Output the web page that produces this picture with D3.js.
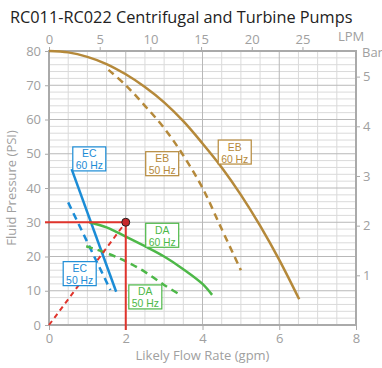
<!DOCTYPE html>
<html>
<head>
<meta charset="utf-8">
<script src="https://cdn.jsdelivr.net/npm/d3@7"></script>
<style>
body { margin: 0; background: #fff; }
svg { font-family: "Open Sans", sans-serif; }
</style>
</head>
<body>
<svg width="382" height="368"></svg>
<script>
// pump curves: [gpm, psi]
const eb60 = [[0, 80], [0.5, 79.6], [1, 78.3], [1.5, 76.2], [2, 73.2], [2.5, 69.5], [3, 65], [3.5, 59.5], [4, 53], [4.5, 46], [5, 38], [5.5, 29], [6, 19], [6.52, 7.5]];
const eb50 = [[1.55, 74.5], [2, 70], [2.5, 64], [3, 57.5], [3.5, 49.5], [4, 40], [4.5, 28], [5, 16]];
const ec60 = [[0.59, 45.5], [1.75, 9.7]];
const ec50 = [[0.5, 35.8], [1.6, 10.2]];
const da60 = [[1.05, 30], [1.5, 28.5], [2, 25.8], [2.5, 23], [3, 20], [3.5, 16.3], [4, 12], [4.25, 8.8]];
const da50 = [[0.97, 23], [1.5, 21], [2, 18.6], [2.5, 15.5], [3, 11.7], [3.42, 8.8]];
const opPoint = [2, 30];

const gpmTicks = [0, 2, 4, 6, 8];
const psiTicks = [0, 10, 20, 30, 40, 50, 60, 70, 80];
const lpmTicks = [0, 5, 10, 15, 20, 25];
const barTicks = [1, 2, 3, 4, 5];

// box labels, anchored at the box top-left corner (gpm, psi)
const labels = [
    {t1: "EC", t2: "60 Hz", x: 0.62, y: 52, c: "#1b8cd6"},
    {t1: "EC", t2: "50 Hz", x: 0.37, y: 18.5, c: "#1b8cd6"},
    {t1: "EB", t2: "50 Hz", x: 2.52, y: 50.6, c: "#b5893a"},
    {t1: "EB", t2: "60 Hz", x: 4.41, y: 54, c: "#b5893a"},
    {t1: "DA", t2: "60 Hz", x: 2.52, y: 29.7, c: "#4db848"},
    {t1: "DA", t2: "50 Hz", x: 2.08, y: 11.7, c: "#4db848"}
];

let svg = d3.select("svg");
let gold = "#b5893a", blue = "#1b8cd6", green = "#4db848", red = "#e0342c";
let axisCol = "#aaa", textCol = "#a0a0a0";

let xScale = d3.scaleLinear().domain([0, 8]).range([49, 356]);
let yScale = d3.scaleLinear().domain([0, 80]).range([325, 51]);
let lpmScale = d3.scaleLinear().domain([0, 8 * 3.785]).range([49, 356]);
let barScale = d3.scaleLinear().domain([0, 80 / 14.5038]).range([325, 51]);

// title
svg.append("text")
    .attr("x", 10).attr("y", 23)
    .attr("font-size", 16.3)
    .attr("fill", "#222")
    .text("RC011-RC022 Centrifugal and Turbine Pumps");

// grid
let grid = svg.append("g");
d3.range(2, 80, 2).forEach(v => {
    if (v % 10 == 0) return;
    grid.append("line")
        .attr("x1", xScale(0)).attr("x2", xScale(8))
        .attr("y1", yScale(v)).attr("y2", yScale(v))
        .attr("stroke", "#dadada").attr("stroke-width", 1);
});
d3.range(0.5, 8, 0.5).forEach(v => {
    if (v % 2 == 0) return;
    grid.append("line")
        .attr("x1", xScale(v)).attr("x2", xScale(v))
        .attr("y1", yScale(0)).attr("y2", yScale(80))
        .attr("stroke", "#dadada").attr("stroke-width", 1);
});
psiTicks.slice(1, -1).forEach(v => {
    grid.append("line")
        .attr("x1", xScale(0)).attr("x2", xScale(8))
        .attr("y1", yScale(v)).attr("y2", yScale(v))
        .attr("stroke", "#b8b8b8").attr("stroke-width", 1);
});
gpmTicks.slice(1, -1).forEach(v => {
    grid.append("line")
        .attr("x1", xScale(v)).attr("x2", xScale(v))
        .attr("y1", yScale(0)).attr("y2", yScale(80))
        .attr("stroke", "#b8b8b8").attr("stroke-width", 1);
});

// axes
let styleAxis = (g) => {
    g.select(".domain").remove();
    g.selectAll(".tick line").attr("stroke", axisCol);
    g.selectAll(".tick text").attr("fill", textCol).attr("font-size", 13)
        .attr("font-family", "Open Sans, sans-serif");
};

svg.append("g")
    .attr("transform", "translate(0," + yScale(0) + ")")
    .call(d3.axisBottom(xScale).tickValues(gpmTicks).tickSize(5).tickPadding(4))
    .call(styleAxis);

svg.append("g")
    .attr("transform", "translate(" + xScale(0) + ",0)")
    .call(d3.axisLeft(yScale).tickValues(psiTicks).tickSize(4).tickPadding(4))
    .call(styleAxis);

svg.append("g")
    .attr("transform", "translate(0," + yScale(80) + ")")
    .call(d3.axisTop(lpmScale).tickValues(lpmTicks).tickSize(4).tickPadding(3))
    .call(styleAxis);

svg.append("g")
    .attr("transform", "translate(" + xScale(8) + ",0)")
    .call(d3.axisRight(barScale).tickValues(barTicks).tickFormat(d3.format("d")).tickSize(4).tickPadding(3))
    .call(styleAxis);

// frame
svg.append("rect")
    .attr("x", xScale(0)).attr("y", yScale(80))
    .attr("width", xScale(8) - xScale(0)).attr("height", yScale(0) - yScale(80))
    .attr("fill", "none").attr("stroke", axisCol).attr("stroke-width", 2);

svg.append("text")
    .attr("x", 338).attr("y", 41)
    .attr("font-size", 13).attr("fill", textCol)
    .text("LPM");
svg.append("text")
    .attr("x", 362).attr("y", 57)
    .attr("font-size", 13).attr("fill", textCol)
    .text("Bar");

svg.append("text")
    .attr("x", (xScale(0) + xScale(8)) / 2).attr("y", 360)
    .attr("text-anchor", "middle")
    .attr("font-size", 13).attr("fill", textCol)
    .text("Likely Flow Rate (gpm)");
svg.append("text")
    .attr("transform", "translate(16," + yScale(40) + ") rotate(-90)")
    .attr("text-anchor", "middle")
    .attr("font-size", 13).attr("fill", textCol)
    .text("Fluid Pressure (PSI)");

// curves
let line = d3.line()
    .x(d => xScale(d[0]))
    .y(d => yScale(d[1]))
    .curve(d3.curveCatmullRom);

let curves = [
    {d: eb60, c: gold, dash: null},
    {d: eb50, c: gold, dash: "7,5"},
    {d: ec60, c: blue, dash: null},
    {d: ec50, c: blue, dash: "7,5"},
    {d: da60, c: green, dash: null},
    {d: da50, c: green, dash: "7,5"}
];
svg.selectAll(".curve")
    .data(curves)
    .enter()
    .append("path")
    .attr("class", "curve")
    .attr("d", i => line(i.d))
    .attr("fill", "none")
    .attr("stroke", i => i.c)
    .attr("stroke-width", 2.5)
    .attr("stroke-dasharray", i => i.dash);

// operating point
svg.append("line")
    .attr("x1", xScale(0) - 4).attr("x2", xScale(opPoint[0]))
    .attr("y1", yScale(opPoint[1])).attr("y2", yScale(opPoint[1]))
    .attr("stroke", red).attr("stroke-width", 2);
svg.append("line")
    .attr("x1", xScale(opPoint[0])).attr("x2", xScale(opPoint[0]))
    .attr("y1", yScale(opPoint[1])).attr("y2", yScale(0) + 5)
    .attr("stroke", red).attr("stroke-width", 2);
svg.append("line")
    .attr("x1", xScale(0)).attr("x2", xScale(opPoint[0]))
    .attr("y1", yScale(0)).attr("y2", yScale(opPoint[1]))
    .attr("stroke", red).attr("stroke-width", 2)
    .attr("stroke-dasharray", "5,4");
svg.append("circle")
    .attr("cx", xScale(opPoint[0])).attr("cy", yScale(opPoint[1]))
    .attr("r", 4)
    .attr("fill", "#c8282a").attr("stroke", "#222").attr("stroke-width", 1);

// label boxes
let boxes = svg.selectAll(".lbl")
    .data(labels)
    .enter()
    .append("g")
    .attr("class", "lbl")
    .attr("transform", i => "translate(" + xScale(i.x) + "," + yScale(i.y) + ")");
boxes.append("rect")
    .attr("width", 33).attr("height", 24)
    .attr("fill", "#fff")
    .attr("stroke", i => i.c).attr("stroke-width", 1.2);
boxes.append("text")
    .attr("x", 16.5).attr("y", 10.5)
    .attr("text-anchor", "middle")
    .attr("font-family", "Liberation Sans, sans-serif")
    .attr("font-size", 10.4).attr("fill", i => i.c)
    .text(i => i.t1);
boxes.append("text")
    .attr("x", 16.5).attr("y", 22.5)
    .attr("text-anchor", "middle")
    .attr("font-family", "Liberation Sans, sans-serif")
    .attr("font-size", 10.4).attr("fill", i => i.c)
    .text(i => i.t2);
</script>
</body>
</html>
